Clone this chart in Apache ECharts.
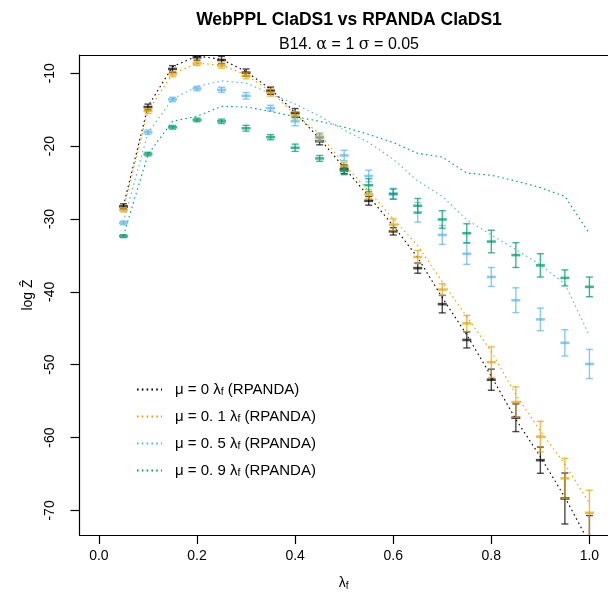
<!DOCTYPE html>
<html>
<head>
<meta charset="utf-8">
<script src="https://cdn.jsdelivr.net/npm/echarts@6/dist/echarts.min.js"></script>
<style>
  html, body { margin: 0; padding: 0; background: #fff; }
  #chart { width: 608px; height: 596px; }
</style>
</head>
<body>
<div id="chart"></div>
<script>
// Speciation rate values on the x axis
const lambdaF = [0.05, 0.1, 0.15, 0.2, 0.25, 0.3, 0.35, 0.4, 0.45, 0.5,
                 0.55, 0.6, 0.65, 0.7, 0.75, 0.8, 0.85, 0.9, 0.95, 1.0];
const xTicks = [0, 0.2, 0.4, 0.6, 0.8, 1.0];
const yTicks = [-70, -60, -50, -40, -30, -20, -10];

// WebPPL estimates of log Z (mean and half width of the error bar)
const webpplMu0 = [-28.27, -14.64, -9.41, -7.82, -8.19, -9.92, -12.4, -15.45, -19.33, -23.19,
                   -27.51, -31.7, -36.75, -41.69, -46.6, -52.06, -57.28, -63.1, -68.36, -74.2];
const errMu0 = [0.35, 0.4, 0.45, 0.4, 0.5, 0.5, 0.5, 0.6, 0.5, 0.6,
                0.6, 0.5, 0.7, 1.2, 1.1, 1.45, 1.9, 1.8, 3.5, 3.5];
const webpplMu01 = [-28.74, -15.18, -10.14, -8.64, -8.96, -10.37, -12.65, -15.78, -18.86, -22.82,
                    -26.6, -30.78, -35.23, -39.69, -44.33, -49.65, -55.14, -59.87, -65.6, -70.33];
const errMu01 = [0.3, 0.35, 0.35, 0.3, 0.35, 0.4, 0.5, 0.5, 0.5, 0.6,
                 0.6, 0.8, 0.9, 0.8, 1.1, 2.1, 2.1, 2.1, 2.75, 3.1];
const webpplMu05 = [-30.55, -18.1, -13.6, -12.1, -12.28, -13.1, -14.8, -16.6, -18.7, -21.28,
                    -24.1, -26.5, -29.09, -32.19, -34.78, -37.96, -41.15, -43.78, -47.0, -49.9];
const errMu05 = [0.25, 0.3, 0.3, 0.3, 0.35, 0.45, 0.4, 0.6, 0.5, 0.7,
                 0.8, 0.7, 1.35, 1.3, 1.45, 1.3, 1.7, 1.55, 1.8, 2.0];
const webpplMu09 = [-32.36, -21.1, -17.42, -16.41, -16.6, -17.55, -18.78, -20.23, -21.69, -23.42,
                    -25.37, -26.6, -28.19, -30.07, -31.96, -33.1, -34.96, -36.37, -38.09, -39.32];
const errMu09 = [0.2, 0.25, 0.25, 0.25, 0.3, 0.4, 0.35, 0.5, 0.4, 0.5,
                 0.9, 0.7, 1.0, 1.2, 1.3, 1.55, 1.7, 1.6, 1.1, 1.35];

// RPANDA log likelihoods (dotted lines)
const rpandaMu0 = [-28.19, -14.55, -9.1, -7.64, -8.09, -9.78, -12.18, -15.4, -19.0, -22.96,
                   -26.9, -30.92, -35.3, -40.8, -45.9, -51.6, -57.5, -62.64, -68.19, -74.5];
const rpandaMu01 = [-28.64, -15.2, -10.1, -8.64, -8.87, -10.23, -12.5, -15.69, -18.3, -22.5,
                    -26.15, -30.0, -33.65, -38.64, -43.4, -48.18, -54.1, -59.1, -63.65, -69.0];
const rpandaMu05 = [-30.4, -18.2, -13.55, -11.83, -11.05, -11.36, -12.8, -14.23, -15.9, -17.8,
                    -19.5, -21.8, -24.8, -26.9, -30.1, -32.2, -34.2, -36.3, -38.9, -46.0];
const rpandaMu09 = [-32.3, -21.14, -16.6, -15.9, -14.55, -14.64, -15.24, -15.96, -16.6, -17.4,
                    -18.4, -19.5, -21.0, -21.5, -23.7, -24.0, -24.8, -25.7, -26.9, -32.0];

const muLabels = ['0', '0. 1', '0. 5', '0. 9'];
const colors = ['#000000', '#E69F00', '#56B4E9', '#009E73'];
const barColors = ['rgba(0,0,0,0.7)', 'rgba(230,159,0,0.7)', 'rgba(86,180,233,0.7)', 'rgba(0,158,115,0.75)'];

const webppl = [webpplMu0, webpplMu01, webpplMu05, webpplMu09];
const errs = [errMu0, errMu01, errMu05, errMu09];
const rpanda = [rpandaMu0, rpandaMu01, rpandaMu05, rpandaMu09];

const FONT = 'Liberation Sans, Arial, sans-serif';
const X_MIN = -0.0396, X_MAX = 1.0379;

function errorBarRenderer(color) {
  return function (params, api) {
    const x = api.value(0), m = api.value(1), h = api.value(2);
    const top = api.coord([x, m + h]);
    const bot = api.coord([x, m - h]);
    const mid = api.coord([x, m]);
    const cap = 3.5, dash = 4.5;
    return {
      type: 'group',
      children: [
        { type: 'line', shape: { x1: top[0], y1: top[1], x2: bot[0], y2: bot[1] },
          style: { stroke: color, lineWidth: 1.4 } },
        { type: 'line', shape: { x1: top[0] - cap, y1: top[1], x2: top[0] + cap, y2: top[1] },
          style: { stroke: color, lineWidth: 1.4 } },
        { type: 'line', shape: { x1: bot[0] - cap, y1: bot[1], x2: bot[0] + cap, y2: bot[1] },
          style: { stroke: color, lineWidth: 1.4 } },
        { type: 'line', shape: { x1: mid[0] - dash, y1: mid[1], x2: mid[0] + dash, y2: mid[1] },
          style: { stroke: color, lineWidth: 2.6 } }
      ]
    };
  };
}

const seriesNames = muLabels.map(function (m) { return 'mu ' + m; });

const series = [];
rpanda.forEach(function (vals, i) {
  series.push({
    name: seriesNames[i],
    type: 'line',
    data: lambdaF.map(function (x, k) { return [x, vals[k]]; }),
    symbol: 'none',
    clip: true,
    lineStyle: { color: colors[i], width: 1.1, type: [1.6, 3.2] },
    itemStyle: { color: colors[i] },
    z: 2
  });
});
webppl.forEach(function (vals, i) {
  series.push({
    name: 'webppl ' + muLabels[i],
    type: 'custom',
    clip: true,
    renderItem: errorBarRenderer(barColors[i]),
    data: lambdaF.map(function (x, k) { return [x, vals[k], errs[i][k]]; }),
    encode: { x: 0, y: 1 },
    z: 3
  });
});

const chart = echarts.init(document.getElementById('chart'), null, { renderer: 'canvas' });
chart.setOption({
  animation: false,
  backgroundColor: '#ffffff',
  title: [
    {
      text: 'WebPPL ClaDS1 vs RPANDA ClaDS1',
      left: 344, top: 6, textAlign: 'center',
      textStyle: { fontFamily: FONT, fontSize: 17.5, fontWeight: 'bold', color: '#000' }
    },
    {
      text: 'B14. {g|α} = 1 {g|σ} = 0.05',
      left: 344, top: 32, textAlign: 'center',
      textStyle: {
        fontFamily: FONT, fontSize: 16, fontWeight: 'normal', color: '#000',
        rich: { g: { fontFamily: 'DejaVu Serif, Liberation Serif, serif', fontSize: 16, color: '#000' } }
      }
    }
  ],
  legend: {
    data: seriesNames,
    orient: 'vertical',
    left: 131, top: 377,
    itemWidth: 25, itemHeight: 14, itemGap: 11,
    itemStyle: { opacity: 0 },
    textStyle: {
      fontFamily: FONT, fontSize: 15, color: '#000',
      padding: [0, 0, 0, 8],
      rich: {
        sub: { fontFamily: FONT, fontSize: 10.5, color: '#000', padding: [6, 0, 0, 0] },
        t: { fontFamily: FONT, fontSize: 15, color: '#000' }
      }
    },
    formatter: function (name) {
      const i = seriesNames.indexOf(name);
      return '{t|μ = ' + muLabels[i] + ' λ}{sub|f}{t| (RPANDA)}';
    }
  },
  grid: {
    left: 79.5, top: 55, right: 0, height: 483,
    show: false
  },
  xAxis: [
    {
      type: 'value', min: X_MIN, max: X_MAX,
      name: '{m|λ}{sub|f}',
      nameLocation: 'middle', nameGap: 40,
      nameTextStyle: {
        fontFamily: FONT, fontSize: 14, color: '#000',
        rich: {
          m: { fontFamily: FONT, fontSize: 14, color: '#000' },
          sub: { fontFamily: FONT, fontSize: 10, color: '#000', padding: [6, 0, 0, 0] }
        }
      },
      axisLine: { show: true, onZero: false, lineStyle: { color: '#000', width: 1.2 } },
      axisTick: { show: true, length: 9, customValues: xTicks, lineStyle: { color: '#000', width: 1.2 } },
      axisLabel: {
        customValues: xTicks, margin: 14,
        fontFamily: FONT, fontSize: 14, color: '#000',
        formatter: function (v) { return v.toFixed(1); }
      },
      splitLine: { show: false }
    },
    {
      // top edge of the plot frame
      type: 'value', position: 'top', min: X_MIN, max: X_MAX,
      axisLine: { show: true, onZero: false, lineStyle: { color: '#000', width: 1.2 } },
      axisTick: { show: false },
      axisLabel: { show: false },
      splitLine: { show: false }
    }
  ],
  yAxis: {
    type: 'value', min: -73.37, max: -7.5,
    name: 'log Ẑ',
    nameLocation: 'middle', nameGap: 44, nameRotate: 90,
    nameTextStyle: { fontFamily: FONT, fontSize: 14, color: '#000' },
    axisLine: { show: true, onZero: false, lineStyle: { color: '#000', width: 1.2 } },
    axisTick: { show: true, length: 9, customValues: yTicks, lineStyle: { color: '#000', width: 1.2 } },
    axisLabel: {
      customValues: yTicks, margin: 22, rotate: 90,
      fontFamily: FONT, fontSize: 14, color: '#000',
      formatter: function (v) { return String(v); }
    },
    splitLine: { show: false }
  },
  series: series
});
</script>
</body>
</html>
